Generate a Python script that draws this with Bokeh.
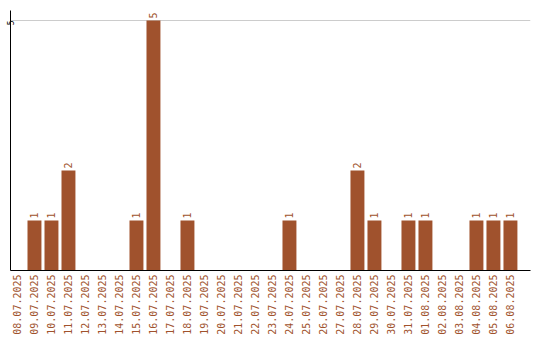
import math
from bokeh.plotting import figure
from bokeh.models import ColumnDataSource, Range1d, FixedTicker
from bokeh.core.properties import value
from bokeh.embed import file_html
from bokeh.resources import INLINE

dates = [
    "08.07.2025", "09.07.2025", "10.07.2025", "11.07.2025", "12.07.2025",
    "13.07.2025", "14.07.2025", "15.07.2025", "16.07.2025", "17.07.2025",
    "18.07.2025", "19.07.2025", "20.07.2025", "21.07.2025", "22.07.2025",
    "23.07.2025", "24.07.2025", "25.07.2025", "26.07.2025", "27.07.2025",
    "28.07.2025", "29.07.2025", "30.07.2025", "31.07.2025", "01.08.2025",
    "02.08.2025", "03.08.2025", "04.08.2025", "05.08.2025", "06.08.2025",
]
counts = [0, 1, 1, 2, 0, 0, 0, 1, 5, 0,
          1, 0, 0, 0, 0, 0, 1, 0, 0, 0,
          2, 1, 0, 1, 1, 0, 0, 1, 1, 1]
y_ticks = [5]

BAR = "#a0522d"
FONT = "DejaVu Sans Mono"

idx = list(range(len(dates)))
src = ColumnDataSource(dict(x=idx, y=counts))
nonzero = [i for i, c in enumerate(counts) if c > 0]
lab_src = ColumnDataSource(dict(
    x=[idx[i] for i in nonzero],
    y=[counts[i] for i in nonzero],
    label=[str(counts[i]) for i in nonzero],
))

p = figure(width=540, height=340, output_backend="svg", toolbar_location=None,
           x_range=Range1d(-0.41, 30.18), y_range=Range1d(0, 5.2),
           min_border_left=10, min_border_right=10, min_border_top=10,
           min_border_bottom=70)
p.outline_line_color = None
p.background_fill_color = "white"
p.border_fill_color = "white"

p.vbar(x="x", top="y", width=0.82, source=src, fill_color=BAR, line_color=None)
p.text(x="x", y="y", text="label", source=lab_src, angle=math.pi / 2,
       text_align="left", text_baseline="middle", y_offset=-2,
       text_color=BAR, text_font=value(FONT), text_font_size="10px")

p.xgrid.grid_line_color = None
p.ygrid.ticker = FixedTicker(ticks=y_ticks)
p.ygrid.grid_line_color = "#cccccc"

p.xaxis.ticker = FixedTicker(ticks=idx)
p.xaxis.major_label_overrides = {i: d for i, d in zip(idx, dates)}
p.xaxis.major_label_orientation = math.pi / 2
p.xaxis.major_label_text_color = BAR
p.xaxis.major_label_text_font = FONT
p.xaxis.major_label_text_font_size = "10px"
p.xaxis.major_label_standoff = 4
p.xaxis.major_tick_line_color = None
p.xaxis.major_tick_out = 0
p.xaxis.minor_tick_line_color = None
p.xaxis.axis_line_color = "black"

p.yaxis.ticker = FixedTicker(ticks=y_ticks)
p.yaxis.major_label_orientation = math.pi / 2
p.yaxis.major_label_text_color = "black"
p.yaxis.major_label_text_font = FONT
p.yaxis.major_label_text_font_size = "8px"
p.yaxis.major_label_standoff = 0
p.yaxis.major_tick_line_color = None
p.yaxis.major_tick_in = 0
p.yaxis.major_tick_out = 0
p.yaxis.minor_tick_line_color = None
p.yaxis.axis_line_color = "black"

open("out.html", "w").write(file_html(p, INLINE))
